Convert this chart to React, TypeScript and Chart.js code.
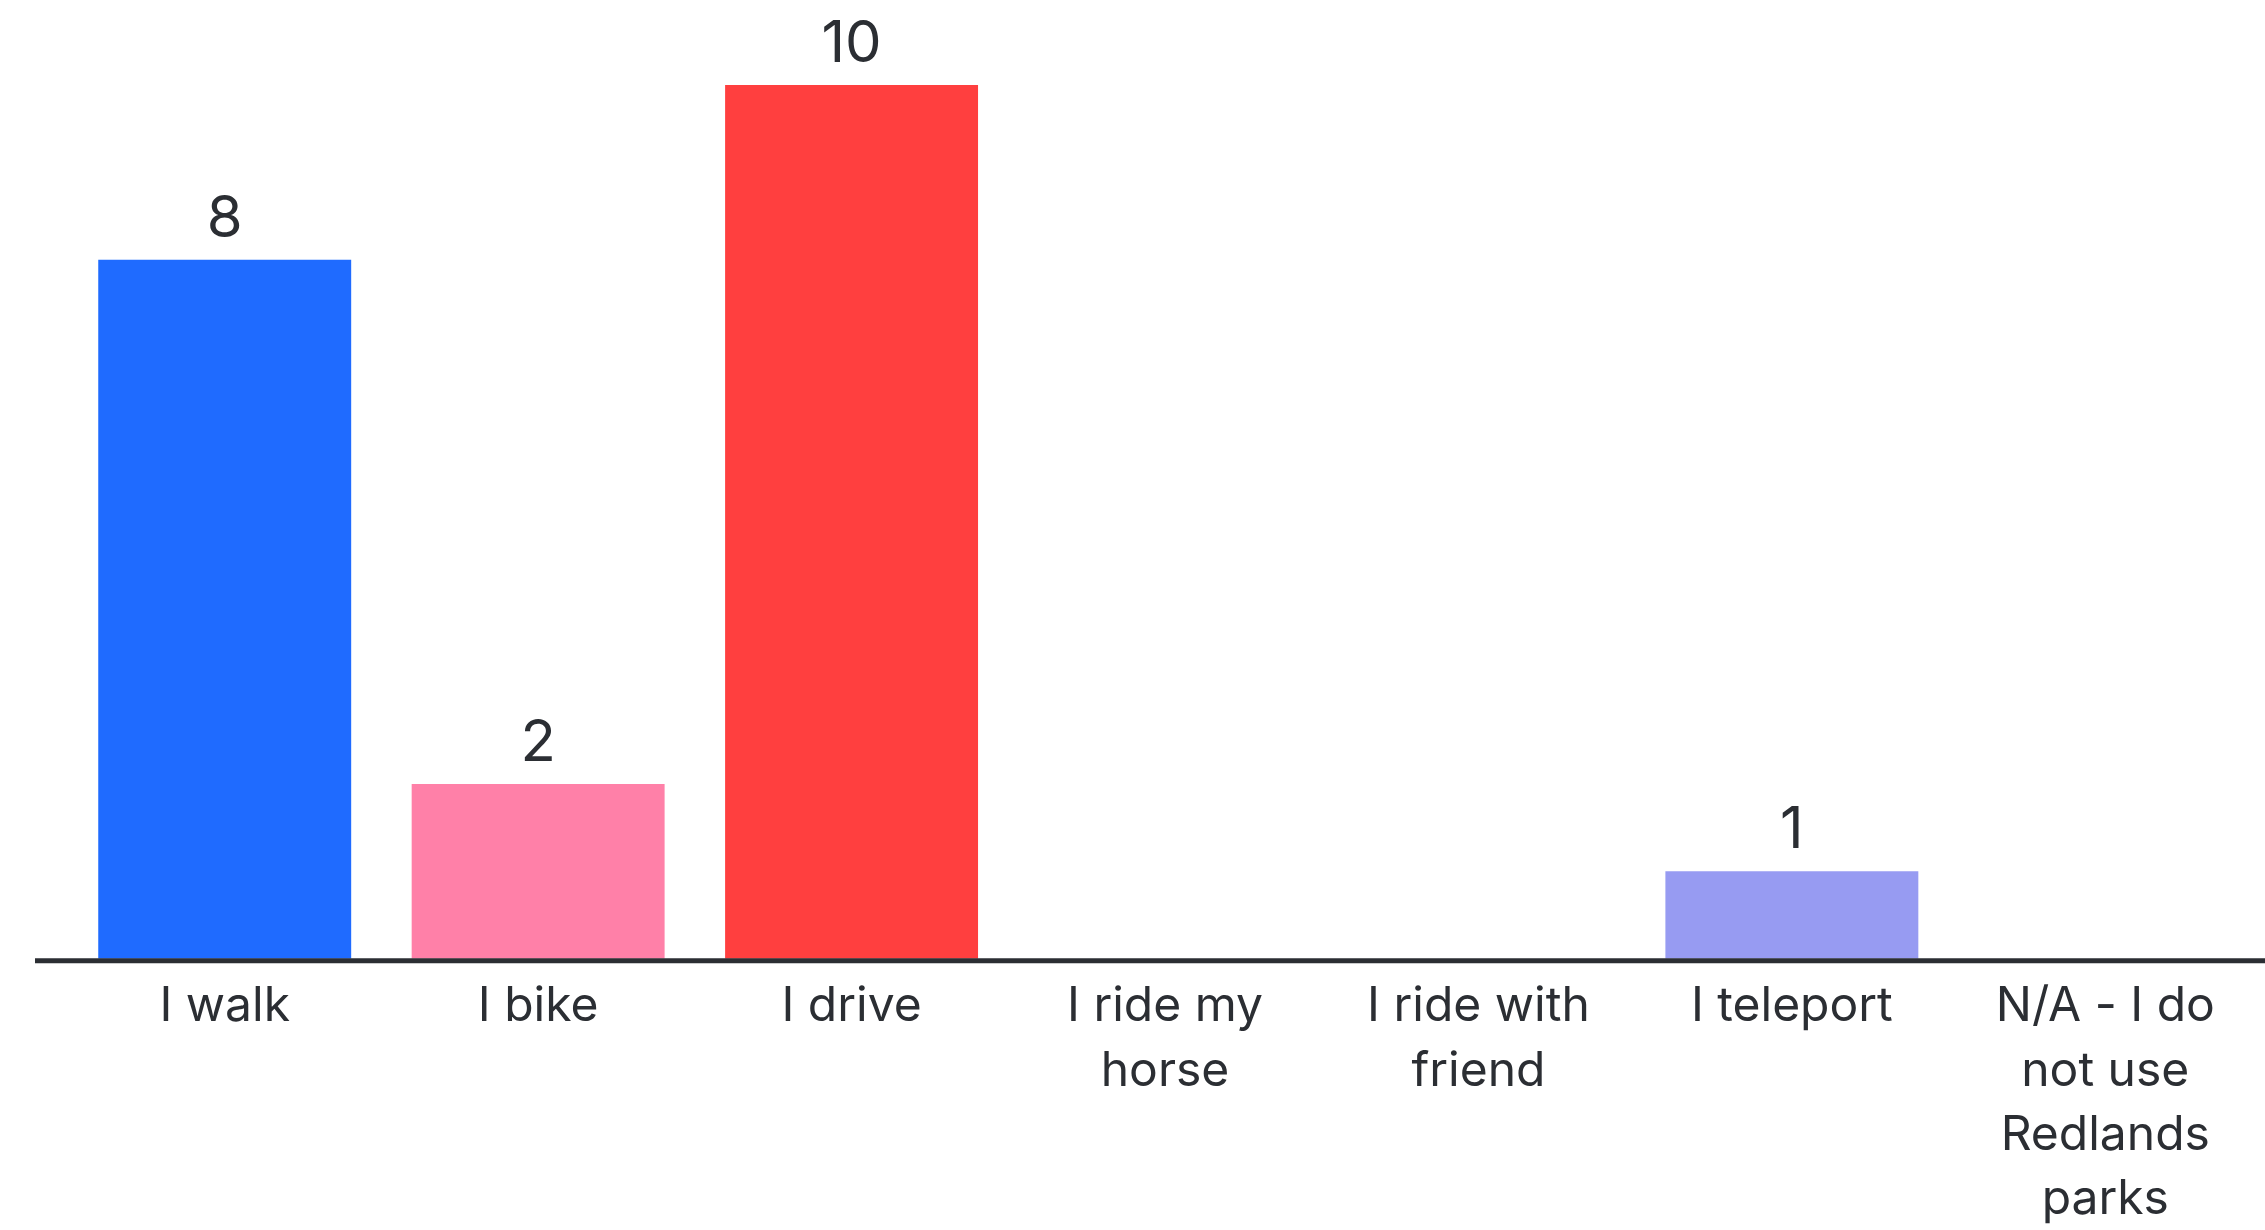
import React, { useEffect, useRef } from "react";
import { Chart, registerables } from "chart.js";

Chart.register(...registerables);

const categories: (string | string[])[] = [
  "I walk",
  "I bike",
  "I drive",
  ["I ride my", "horse"],
  ["I ride with", "friend"],
  "I teleport",
  ["N/A - I do", "not use", "Redlands", "parks"],
];
const counts = [8, 2, 10, 0, 0, 1, 0];
const barColors = ["#1f6bff", "#ff80a8", "#ff3f3f", "#ff3f3f", "#ff3f3f", "#979bf2", "#979bf2"];

const TEXT = "#2b2e33";
const FONT = "Inter";

const valueLabels = {
  id: "valueLabels",
  afterDatasetsDraw(chart: any) {
    const ctx = chart.ctx;
    const meta = chart.getDatasetMeta(0);
    ctx.save();
    ctx.fillStyle = TEXT;
    ctx.font = `400 58px ${FONT}`;
    ctx.textAlign = "center";
    ctx.textBaseline = "alphabetic";
    meta.data.forEach((bar: any, i: number) => {
      const v = counts[i];
      if (!v) return;
      ctx.fillText(String(v), bar.x, bar.y - 23);
    });
    ctx.restore();
  },
};

const baseLine = {
  id: "baseLine",
  afterDatasetsDraw(chart: any) {
    const ctx = chart.ctx;
    const y = chart.chartArea.bottom + 2;
    ctx.save();
    ctx.strokeStyle = "#2b2e33";
    ctx.lineWidth = 5;
    ctx.beginPath();
    ctx.moveTo(35, y);
    ctx.lineTo(chart.width, y);
    ctx.stroke();
    ctx.restore();
  },
};

export default function App() {
  const ref = useRef<HTMLCanvasElement | null>(null);
  useEffect(() => {
    if (!ref.current) return;
    const chart = new Chart(ref.current, {
      type: "bar",
      data: {
        labels: categories,
        datasets: [
          {
            data: counts,
            backgroundColor: barColors,
            borderWidth: 0,
            categoryPercentage: 0.807,
            barPercentage: 1,
          },
        ],
      },
      options: {
        animation: false,
        responsive: false,
        maintainAspectRatio: false,
        layout: { padding: { left: 68, right: 3, top: 85, bottom: -18 } },
        plugins: { legend: { display: false }, tooltip: { enabled: false } },
        scales: {
          x: {
            grid: { display: false, drawTicks: false },
            border: { display: false },
            ticks: {
              color: TEXT,
              font: { family: FONT, size: 48, lineHeight: 1.34 },
              maxRotation: 0,
              autoSkip: false,
              padding: 16,
            },
          },
          y: { display: false, min: 0, max: 10 },
        },
      },
      plugins: [valueLabels, baseLine],
    });
    return () => chart.destroy();
  }, []);
  return (
    <div style={{ position: "fixed", left: 0, top: 0, width: 2265, height: 1230, background: "#fff" }}>
      <canvas ref={ref} width={2265} height={1230} style={{ width: 2265, height: 1230 }} />
    </div>
  );
}
